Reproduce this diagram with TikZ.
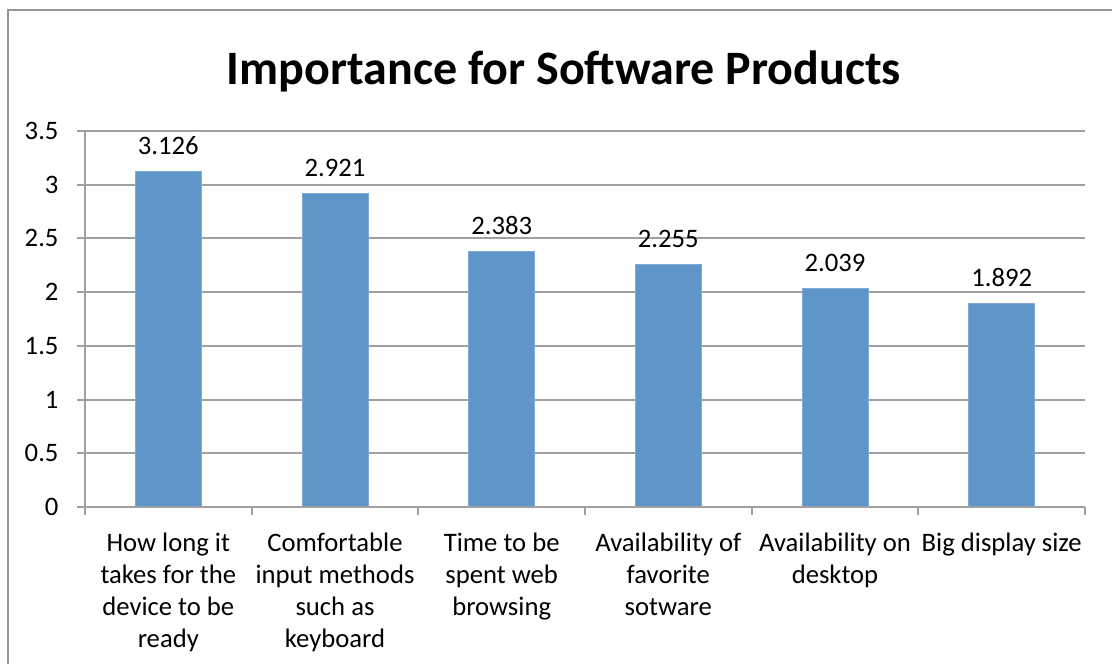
\documentclass[tikz,border=0pt]{standalone}
\usepackage{fontspec}
\setmainfont{Carlito}

\definecolor{barblue}{RGB}{95,150,202}
\definecolor{gridgray}{RGB}{160,160,160}
\definecolor{framegray}{RGB}{150,150,150}

\tikzset{every picture/.style={line width=0.75pt}}
\tikzset{
  bar/.style={fill=barblue, draw=barblue!80!white, line width=0.5pt},
  gridline/.style={draw=gridgray, line width=1.5pt},
  ticklabel/.style={anchor=east, inner sep=0.75pt, font=\fontsize{20}{24}\selectfont},
  valuelabel/.style={anchor=south, inner sep=0.75pt, font=\fontsize{20}{24}\selectfont},
  catlabel/.style={anchor=north, inner sep=0.75pt, align=center, font=\fontsize{20}{24}\selectfont},
}

\begin{document}
\begin{tikzpicture}[x=0.75pt,y=0.75pt,yscale=-1,xscale=1]
\useasboundingbox (0,0) rectangle (1112,663);

%Shape: Rectangle [id:chartframe]
\draw [draw=framegray, line width=1.5pt] (8,10) -- (1130,10) -- (1130,680) -- (8,680) -- cycle ;

% Text Node
\node (title) at (564,71) {\fontsize{36}{42}\selectfont\bfseries Importance for Software Products};

%Straight Lines [id:gridlines]
\draw [gridline] (77,131) -- (1085,131) ;
\draw [gridline] (77,184.7) -- (1085,184.7) ;
\draw [gridline] (77,238.4) -- (1085,238.4) ;
\draw [gridline] (77,292.1) -- (1085,292.1) ;
\draw [gridline] (77,345.9) -- (1085,345.9) ;
\draw [gridline] (77,399.6) -- (1085,399.6) ;
\draw [gridline] (77,453.3) -- (1085,453.3) ;
%Straight Lines [id:valueaxis]
\draw [gridline] (85,131) -- (85,507) ;

%Shape: Rectangle [id:bars]
\draw [bar] (135.3,507) rectangle (201.3,171.2) ;
\draw [bar] (302,507) rectangle (368,193.2) ;
\draw [bar] (468.7,507) rectangle (534.7,251) ;
\draw [bar] (635.3,507) rectangle (701.3,264.7) ;
\draw [bar] (802,507) rectangle (868,288) ;
\draw [bar] (968.7,507) rectangle (1034.7,303.7) ;

%Straight Lines [id:categoryaxis]
\draw [gridline] (77,507) -- (1085,507) ;
\draw [gridline] (85,507) -- (85,515) ;
\draw [gridline] (251.7,507) -- (251.7,515) ;
\draw [gridline] (418.3,507) -- (418.3,515) ;
\draw [gridline] (585,507) -- (585,515) ;
\draw [gridline] (751.7,507) -- (751.7,515) ;
\draw [gridline] (918.3,507) -- (918.3,515) ;
\draw [gridline] (1085,507) -- (1085,515) ;

% Text Node
\node [ticklabel] (y35) at (60,131) {3.5};
\node [ticklabel] (y30) at (60,184.7) {3};
\node [ticklabel] (y25) at (60,238.4) {2.5};
\node [ticklabel] (y20) at (60,292.1) {2};
\node [ticklabel] (y15) at (60,345.9) {1.5};
\node [ticklabel] (y10) at (60,399.6) {1};
\node [ticklabel] (y05) at (60,453.3) {0.5};
\node [ticklabel] (y00) at (60,507) {0};

% Text Node
\node [valuelabel] (v1) at (168.3,156) {3.126};
\node [valuelabel] (v2) at (335,178) {2.921};
\node [valuelabel] (v3) at (501.7,236) {2.383};
\node [valuelabel] (v4) at (668.3,249.7) {2.255};
\node [valuelabel] (v5) at (835,273) {2.039};
\node [valuelabel] (v6) at (1001.7,288.7) {1.892};

% Text Node
\node [catlabel] (c1) at (168.3,531) {How long it\\takes for the\\device to be\\ready};
\node [catlabel] (c2) at (335,531) {Comfortable\\input methods\\such as\\keyboard};
\node [catlabel] (c3) at (501.7,531) {Time to be\\spent web\\browsing};
\node [catlabel] (c4) at (668.3,531) {Availability of\\favorite\\sotware};
\node [catlabel] (c5) at (835,531) {Availability on\\desktop};
\node [catlabel] (c6) at (1001.7,531) {Big display size};

\end{tikzpicture}
\end{document}
